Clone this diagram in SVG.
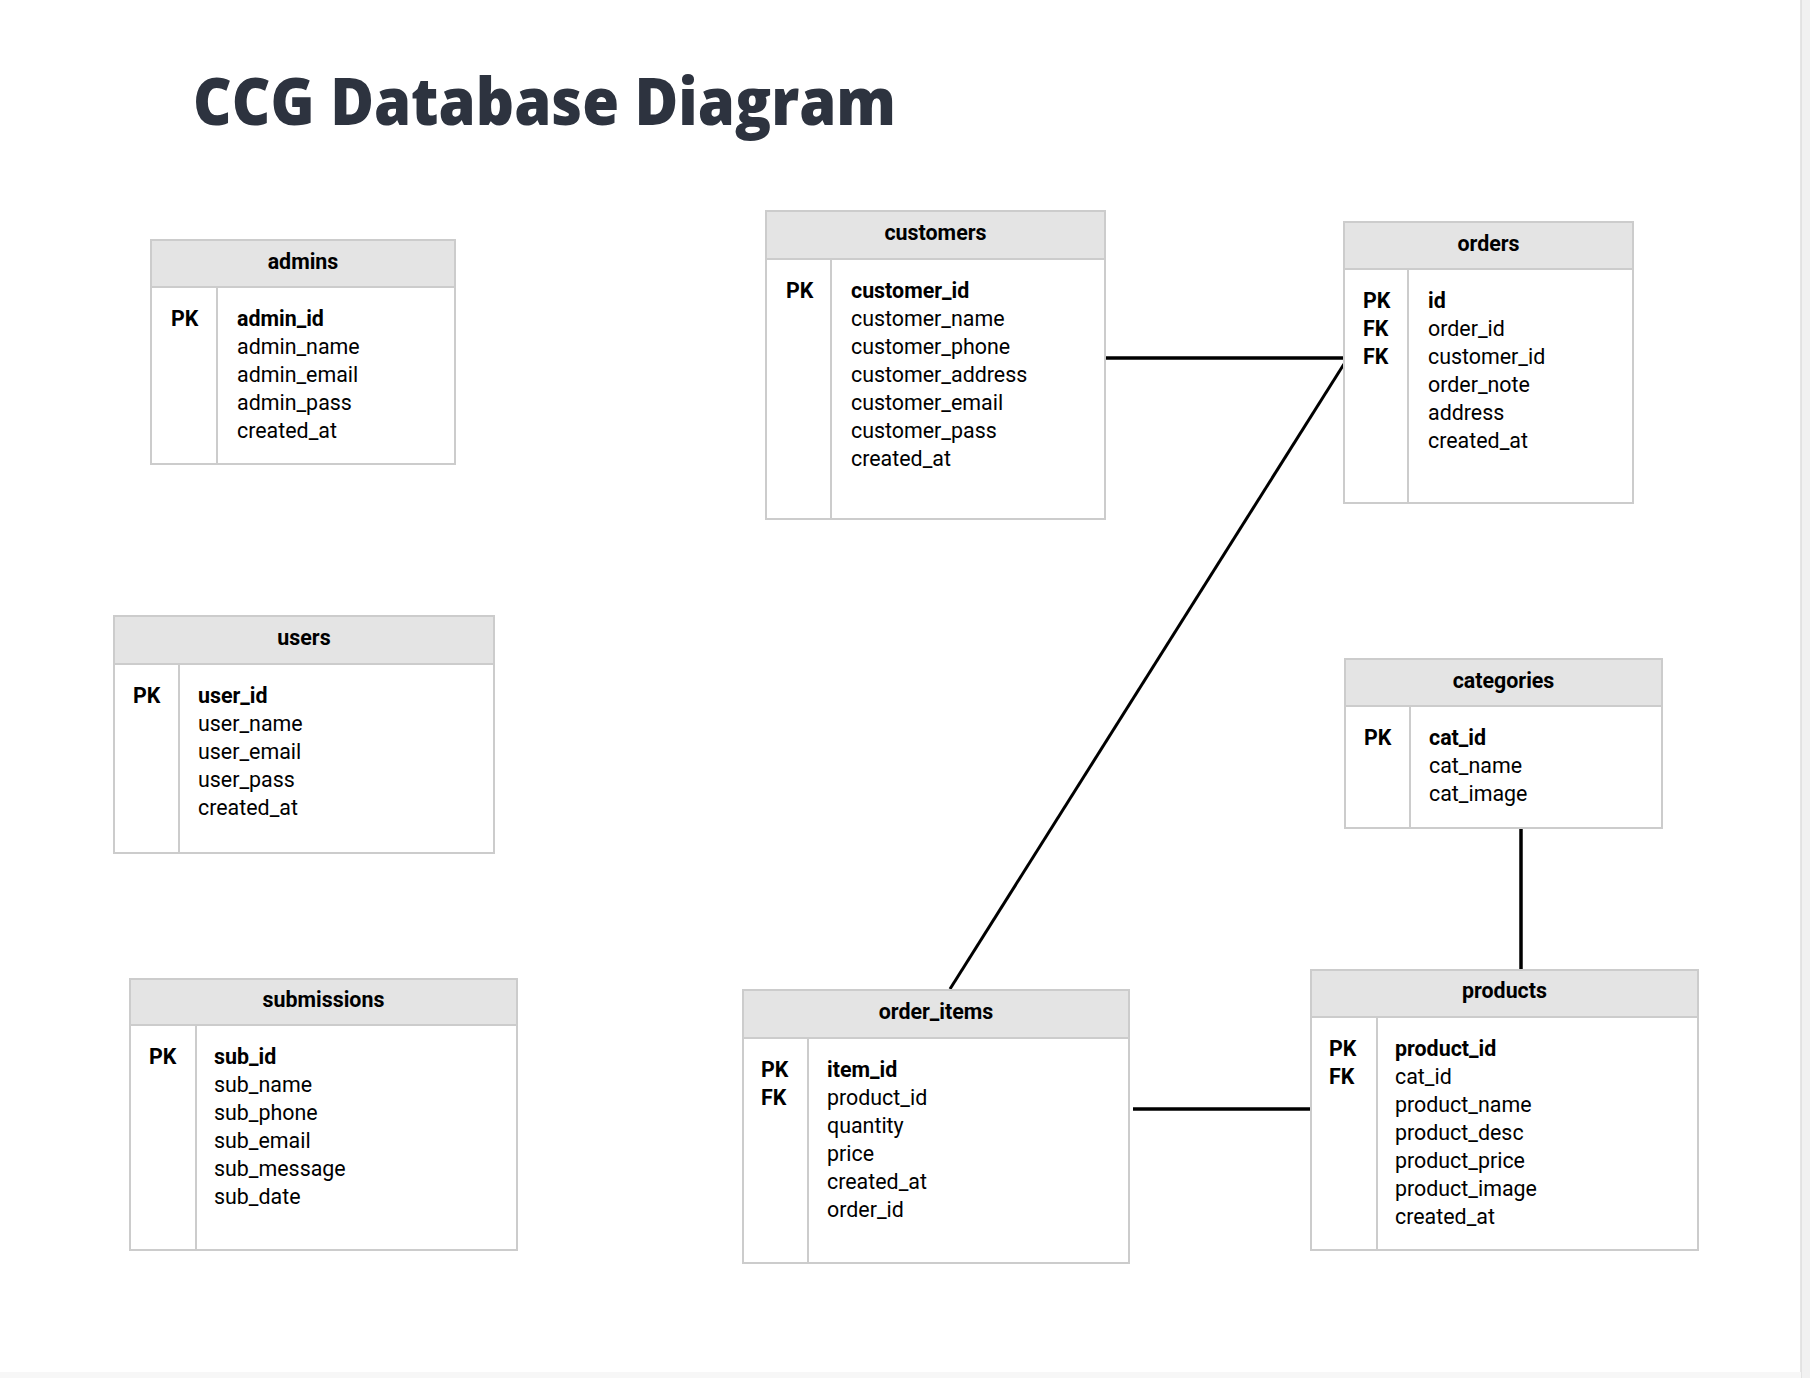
<svg xmlns="http://www.w3.org/2000/svg" width="1810" height="1378" viewBox="0 0 1810 1378">
<style>
.hd{fill:#e4e4e4;stroke:none}
.bd{fill:#ffffff;stroke:none}
.bx{fill:none;stroke:#cccccc;stroke-width:2}
.ln{stroke:#cccccc;stroke-width:2}
.t{font-family:Roboto,"Liberation Sans",sans-serif;font-size:21.4px;fill:#000}
.b{font-weight:bold}
.h{font-family:Roboto,"Liberation Sans",sans-serif;font-size:21.4px;font-weight:bold;fill:#000;text-anchor:middle}
.c{stroke:#000;stroke-width:3.5;fill:none}
</style>
<rect width="1810" height="1378" fill="#ffffff"/>
<rect x="1801" y="0" width="9" height="1378" fill="#f1f1f1"/>
<line x1="1801" y1="0" x2="1801" y2="1378" stroke="#dddddd" stroke-width="1.5"/>
<rect x="0" y="1372" width="1801" height="6" fill="#f7f7f7"/>
<text x="193" y="125" font-family="'Open Sans','Noto Sans',sans-serif" font-weight="800" font-size="66" fill="#2d333f" textLength="703" lengthAdjust="spacingAndGlyphs">CCG Database Diagram</text>

<g id="connectors">
<line class="c" x1="1106" y1="358" x2="1344" y2="358"/>
<line class="c" x1="1344" y1="364" x2="950" y2="989" style="stroke-width:3"/>
<line class="c" x1="1521" y1="828" x2="1521" y2="970"/>
<line class="c" x1="1133" y1="1109" x2="1311" y2="1109"/>
</g>

<g id="admins">
<rect class="bd" x="151" y="240" width="304" height="224"/>
<rect class="hd" x="151" y="240" width="304" height="47"/>
<rect class="bx" x="151" y="240" width="304" height="224"/>
<line class="ln" x1="151" y1="287" x2="455" y2="287"/>
<line class="ln" x1="217" y1="287" x2="217" y2="464"/>
<text class="h" x="303" y="269">admins</text>
<text class="t b" x="171" y="326">PK</text>
<text class="t b" x="237" y="326">admin_id</text>
<text class="t" x="237" y="354">admin_name</text>
<text class="t" x="237" y="382">admin_email</text>
<text class="t" x="237" y="410">admin_pass</text>
<text class="t" x="237" y="438">created_at</text>
</g>

<g id="customers">
<rect class="bd" x="766" y="211" width="339" height="308"/>
<rect class="hd" x="766" y="211" width="339" height="48"/>
<rect class="bx" x="766" y="211" width="339" height="308"/>
<line class="ln" x1="766" y1="259" x2="1105" y2="259"/>
<line class="ln" x1="831" y1="259" x2="831" y2="519"/>
<text class="h" x="935.5" y="240">customers</text>
<text class="t b" x="786" y="297.5">PK</text>
<text class="t b" x="851" y="297.5">customer_id</text>
<text class="t" x="851" y="325.5">customer_name</text>
<text class="t" x="851" y="353.5">customer_phone</text>
<text class="t" x="851" y="381.5">customer_address</text>
<text class="t" x="851" y="409.5">customer_email</text>
<text class="t" x="851" y="437.5">customer_pass</text>
<text class="t" x="851" y="465.5">created_at</text>
</g>

<g id="orders">
<rect class="bd" x="1344" y="222" width="289" height="281"/>
<rect class="hd" x="1344" y="222" width="289" height="47"/>
<rect class="bx" x="1344" y="222" width="289" height="281"/>
<line class="ln" x1="1344" y1="269" x2="1633" y2="269"/>
<line class="ln" x1="1408" y1="269" x2="1408" y2="503"/>
<text class="h" x="1488.5" y="251">orders</text>
<text class="t b" x="1363" y="308">PK</text>
<text class="t b" x="1363" y="336">FK</text>
<text class="t b" x="1363" y="364">FK</text>
<text class="t b" x="1428" y="308">id</text>
<text class="t" x="1428" y="336">order_id</text>
<text class="t" x="1428" y="364">customer_id</text>
<text class="t" x="1428" y="392">order_note</text>
<text class="t" x="1428" y="420">address</text>
<text class="t" x="1428" y="448">created_at</text>
</g>

<g id="users">
<rect class="bd" x="114" y="616" width="380" height="237"/>
<rect class="hd" x="114" y="616" width="380" height="48"/>
<rect class="bx" x="114" y="616" width="380" height="237"/>
<line class="ln" x1="114" y1="664" x2="494" y2="664"/>
<line class="ln" x1="179" y1="664" x2="179" y2="853"/>
<text class="h" x="304" y="645">users</text>
<text class="t b" x="133" y="703">PK</text>
<text class="t b" x="198" y="703">user_id</text>
<text class="t" x="198" y="731">user_name</text>
<text class="t" x="198" y="759">user_email</text>
<text class="t" x="198" y="787">user_pass</text>
<text class="t" x="198" y="815">created_at</text>
</g>

<g id="categories">
<rect class="bd" x="1345" y="659" width="317" height="169"/>
<rect class="hd" x="1345" y="659" width="317" height="47"/>
<rect class="bx" x="1345" y="659" width="317" height="169"/>
<line class="ln" x1="1345" y1="706" x2="1662" y2="706"/>
<line class="ln" x1="1410" y1="706" x2="1410" y2="828"/>
<text class="h" x="1503.5" y="688">categories</text>
<text class="t b" x="1364" y="745">PK</text>
<text class="t b" x="1429" y="745">cat_id</text>
<text class="t" x="1429" y="773">cat_name</text>
<text class="t" x="1429" y="801">cat_image</text>
</g>

<g id="submissions">
<rect class="bd" x="130" y="979" width="387" height="271"/>
<rect class="hd" x="130" y="979" width="387" height="46"/>
<rect class="bx" x="130" y="979" width="387" height="271"/>
<line class="ln" x1="130" y1="1025" x2="517" y2="1025"/>
<line class="ln" x1="196" y1="1025" x2="196" y2="1250"/>
<text class="h" x="323.5" y="1007">submissions</text>
<text class="t b" x="149" y="1064">PK</text>
<text class="t b" x="214" y="1064">sub_id</text>
<text class="t" x="214" y="1092">sub_name</text>
<text class="t" x="214" y="1120">sub_phone</text>
<text class="t" x="214" y="1148">sub_email</text>
<text class="t" x="214" y="1176">sub_message</text>
<text class="t" x="214" y="1204">sub_date</text>
</g>

<g id="order_items">
<rect class="bd" x="743" y="990" width="386" height="273"/>
<rect class="hd" x="743" y="990" width="386" height="48"/>
<rect class="bx" x="743" y="990" width="386" height="273"/>
<line class="ln" x1="743" y1="1038" x2="1129" y2="1038"/>
<line class="ln" x1="808" y1="1038" x2="808" y2="1263"/>
<text class="h" x="936" y="1019">order_items</text>
<text class="t b" x="761" y="1077">PK</text>
<text class="t b" x="761" y="1105">FK</text>
<text class="t b" x="827" y="1077">item_id</text>
<text class="t" x="827" y="1105">product_id</text>
<text class="t" x="827" y="1133">quantity</text>
<text class="t" x="827" y="1161">price</text>
<text class="t" x="827" y="1189">created_at</text>
<text class="t" x="827" y="1217">order_id</text>
</g>

<g id="products">
<rect class="bd" x="1311" y="970" width="387" height="280"/>
<rect class="hd" x="1311" y="970" width="387" height="47"/>
<rect class="bx" x="1311" y="970" width="387" height="280"/>
<line class="ln" x1="1311" y1="1017" x2="1698" y2="1017"/>
<line class="ln" x1="1377" y1="1017" x2="1377" y2="1250"/>
<text class="h" x="1504.5" y="998">products</text>
<text class="t b" x="1329" y="1056">PK</text>
<text class="t b" x="1329" y="1084">FK</text>
<text class="t b" x="1395" y="1056">product_id</text>
<text class="t" x="1395" y="1084">cat_id</text>
<text class="t" x="1395" y="1112">product_name</text>
<text class="t" x="1395" y="1140">product_desc</text>
<text class="t" x="1395" y="1168">product_price</text>
<text class="t" x="1395" y="1196">product_image</text>
<text class="t" x="1395" y="1224">created_at</text>
</g>
</svg>
